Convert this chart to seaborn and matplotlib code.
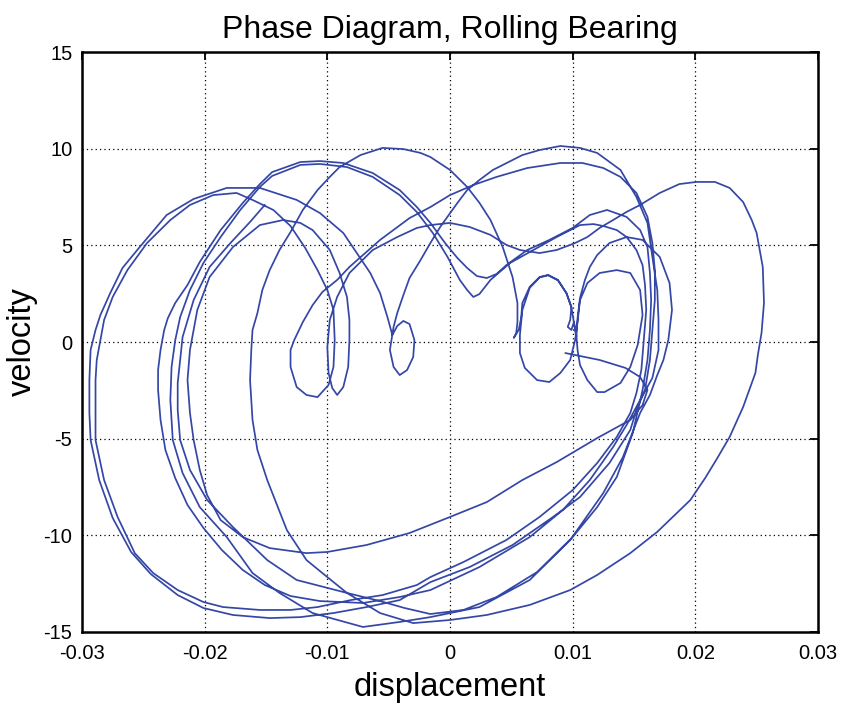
import numpy as np
import pandas as pd
import matplotlib
matplotlib.use("Agg")
import matplotlib.pyplot as plt
import seaborn as sns

# Trajectory of the bearing in phase space, split into its successive revolutions.
# Each entry is (displacement, velocity).
rev_start = [
    (0.0094, -0.57), (0.0122, -0.93), (0.0143, -1.34), (0.0155, -1.81), (0.0161, -2.48),
    (0.0157, -3.26), (0.0147, -4.03), (0.0120, -4.97), (0.0087, -6.21), (0.0059, -7.14),
    (0.0030, -8.28), (0.0000, -9.05), (-0.0033, -9.88), (-0.0068, -10.50), (-0.0100, -10.86),
    (-0.0117, -10.92), (-0.0147, -10.66), (-0.0169, -10.09), (-0.0187, -9.21), (-0.0198, -7.92),
    (-0.0204, -6.62), (-0.0209, -5.07), (-0.0212, -3.67), (-0.0214, -1.97), (-0.0212, -0.41),
    (-0.0206, 1.66), (-0.0196, 3.36), (-0.0177, 4.91), (-0.0155, 6.05), (-0.0136, 6.31),
    (-0.0122, 6.16), (-0.0112, 5.79), (-0.0098, 4.76), (-0.0090, 3.57), (-0.0084, 2.33),
    (-0.0082, 1.14), (-0.0082, 0.10), (-0.0083, -1.29), (-0.0087, -2.33), (-0.0092, -2.74),
    (-0.0096, -2.38), (-0.0099, -1.60), (-0.0100, -0.26), (-0.0098, 1.14), (-0.0092, 2.33),
    (-0.0082, 3.57), (-0.0063, 4.76), (-0.0043, 5.43), (-0.0027, 5.90), (-0.0016, 6.05),
    (0.0000, 6.16), (0.0016, 5.95), (0.0033, 5.54), (0.0046, 5.02), (0.0057, 4.76),
    (0.0073, 4.60), (0.0087, 4.76), (0.0102, 5.12), (0.0112, 5.43), (0.0122, 5.90),
    (0.0133, 6.31), (0.0144, 6.73), (0.0155, 7.09), (0.0171, 7.71), (0.0187, 8.17),
    (0.0201, 8.28), (0.0216, 8.28), (0.0228, 7.97), (0.0239, 7.24), (0.0246, 6.31),
    (0.0250, 5.64), (0.0255, 3.88), (0.0256, 2.02), (0.0254, 0.47), (0.0251, -0.67),
    (0.0249, -1.60), (0.0239, -3.36), (0.0228, -4.91), (0.0218, -6.00), (0.0208, -7.04),
    (0.0196, -8.17), (0.0169, -9.82), (0.0147, -10.92), (0.0120, -12.05), (0.0098, -12.83),
    (0.0065, -13.60), (0.0030, -14.12), (0.0000, -14.38), (-0.0030, -14.54), (-0.0057, -14.02),
    (-0.0084, -12.98), (-0.0100, -12.16), (-0.0117, -11.28), (-0.0133, -9.73), (-0.0149, -7.14),
    (-0.0157, -5.59), (-0.0161, -4.03), (-0.0163, -1.97),
]

rev_inner_loops = [
    (-0.0162, -0.41), (-0.0161, 0.62), (-0.0157, 1.50), (-0.0153, 2.69), (-0.0147, 3.72),
    (-0.0139, 4.76), (-0.0130, 5.69), (-0.0120, 6.83), (-0.0108, 7.86), (-0.0098, 8.54),
    (-0.0090, 9.05), (-0.0073, 9.67), (-0.0055, 10.04), (-0.0038, 9.98), (-0.0024, 9.78),
    (-0.0016, 9.57), (0.0000, 8.90), (0.0014, 8.02), (0.0024, 7.20), (0.0033, 6.31),
    (0.0043, 4.91), (0.0051, 3.36), (0.0055, 2.02), (0.0055, 1.03), (0.0054, 0.47),
    (0.0052, 0.21), (0.0056, 0.62), (0.0058, 1.24), (0.0059, 2.02), (0.0065, 2.85),
    (0.0073, 3.36), (0.0080, 3.47), (0.0088, 3.21), (0.0095, 2.53), (0.0099, 1.81),
    (0.0098, 1.14), (0.0096, 0.78), (0.0099, 0.62), (0.0101, 1.03), (0.0103, 0.36),
    (0.0104, -0.41), (0.0106, -1.19), (0.0112, -1.97), (0.0120, -2.59), (0.0126, -2.59),
    (0.0139, -2.12), (0.0147, -1.29), (0.0153, -0.16), (0.0157, 1.40), (0.0155, 2.69),
    (0.0147, 3.57), (0.0136, 3.72), (0.0122, 3.57), (0.0112, 3.05), (0.0106, 2.17),
    (0.0104, 1.03), (0.0102, 0.10), (0.0098, -0.93), (0.0090, -1.60), (0.0081, -2.07),
    (0.0071, -1.97), (0.0061, -1.34), (0.0057, -0.57), (0.0057, 0.36), (0.0059, 1.66),
    (0.0065, 2.80), (0.0073, 3.34), (0.0080, 3.45), (0.0088, 3.19), (0.0095, 2.51),
    (0.0099, 1.79), (0.0101, 1.03), (0.0103, 0.26), (0.0104, 1.24), (0.0106, 2.28),
    (0.0110, 3.21), (0.0114, 3.88), (0.0120, 4.50), (0.0130, 5.12), (0.0144, 5.43),
    (0.0157, 5.28), (0.0171, 4.40), (0.0179, 3.05), (0.0181, 1.66), (0.0178, 0.10),
    (0.0174, -0.93), (0.0169, -1.71), (0.0163, -2.74), (0.0155, -3.67), (0.0141, -5.95),
    (0.0125, -7.81), (0.0098, -10.24), (0.0065, -12.31), (0.0024, -13.71), (-0.0016, -14.23),
    (-0.0041, -14.48), (-0.0071, -14.74), (-0.0112, -14.02), (-0.0139, -12.98), (-0.0161, -11.95),
    (-0.0182, -10.09), (-0.0204, -8.54), (-0.0218, -6.78), (-0.0226, -5.07), (-0.0228, -3.00),
]

rev_outer_a = [
    (-0.0227, -1.29), (-0.0224, 0.10), (-0.0220, 1.29), (-0.0212, 2.69), (-0.0201, 4.09),
    (-0.0187, 5.43), (-0.0171, 6.83), (-0.0155, 8.02), (-0.0145, 8.59), (-0.0122, 9.16),
    (-0.0106, 9.21), (-0.0084, 9.05), (-0.0063, 8.54), (-0.0041, 7.60), (-0.0027, 6.72),
    (-0.0014, 5.64), (-0.0002, 4.40), (0.0008, 3.21), (0.0014, 2.69), (0.0019, 2.33),
    (0.0024, 2.48), (0.0033, 3.21), (0.0049, 4.09), (0.0068, 4.76), (0.0087, 5.43),
    (0.0106, 6.05), (0.0117, 6.10), (0.0125, 6.00), (0.0136, 5.79), (0.0144, 5.43),
    (0.0152, 4.76), (0.0157, 3.98), (0.0159, 2.95), (0.0160, 1.66), (0.0158, 0.10),
    (0.0156, -1.45), (0.0152, -2.64), (0.0147, -3.67), (0.0136, -4.91), (0.0120, -6.26),
    (0.0100, -7.66), (0.0073, -9.05), (0.0046, -10.24), (0.0011, -11.38), (-0.0016, -12.16),
    (-0.0027, -12.57), (-0.0055, -13.09), (-0.0081, -13.35), (-0.0108, -13.71), (-0.0130, -13.86),
    (-0.0155, -13.86), (-0.0185, -13.71), (-0.0201, -13.45), (-0.0222, -12.83), (-0.0242, -11.95),
    (-0.0257, -10.92), (-0.0271, -9.05), (-0.0282, -7.14), (-0.0289, -5.07), (-0.0289, -3.52),
    (-0.0289, -1.97), (-0.0288, -0.93), (-0.0285, 0.10), (-0.0282, 1.14), (-0.0275, 2.33),
    (-0.0263, 3.72), (-0.0247, 5.12), (-0.0228, 6.31), (-0.0212, 7.09), (-0.0193, 7.60),
    (-0.0174, 7.71), (-0.0161, 7.35), (-0.0144, 6.83), (-0.0130, 6.00), (-0.0118, 4.86),
    (-0.0108, 3.72), (-0.0100, 2.69), (-0.0095, 1.66), (-0.0094, 0.10), (-0.0095, -1.29),
    (-0.0099, -2.22), (-0.0108, -2.85), (-0.0117, -2.74), (-0.0125, -2.33), (-0.0130, -1.29),
    (-0.0130, -0.41), (-0.0127, 0.10), (-0.0120, 1.03), (-0.0112, 1.91), (-0.0104, 2.59),
    (-0.0092, 3.21), (-0.0082, 3.88), (-0.0057, 5.28), (-0.0033, 6.41), (-0.0016, 6.98),
    (0.0000, 7.60), (0.0019, 8.12), (0.0038, 8.54), (0.0063, 9.00), (0.0090, 9.26),
    (0.0108, 9.26), (0.0125, 9.00), (0.0139, 8.54), (0.0152, 7.71), (0.0161, 6.47),
    (0.0165, 5.12), (0.0167, 3.72), (0.0167, 2.17), (0.0165, 0.62), (0.0163, -0.93),
    (0.0159, -2.48), (0.0152, -3.52), (0.0147, -4.55), (0.0130, -6.26), (0.0106, -8.02),
    (0.0084, -9.05), (0.0051, -10.50), (0.0016, -11.64), (-0.0016, -12.42), (-0.0041, -13.35),
    (-0.0068, -13.71), (-0.0095, -14.02), (-0.0122, -14.23), (-0.0147, -14.28), (-0.0177, -14.12),
    (-0.0201, -13.76), (-0.0222, -13.09), (-0.0244, -12.00), (-0.0260, -10.86), (-0.0275, -9.10),
    (-0.0286, -7.14), (-0.0293, -5.07), (-0.0294, -3.67), (-0.0294, -1.97),
]

rev_outer_b = [
    (-0.0293, -0.41), (-0.0289, 0.62), (-0.0285, 1.40), (-0.0277, 2.53), (-0.0267, 3.83),
    (-0.0253, 4.91), (-0.0231, 6.57), (-0.0209, 7.40), (-0.0182, 7.97), (-0.0155, 7.97),
    (-0.0125, 7.35), (-0.0106, 6.67), (-0.0087, 5.64), (-0.0076, 4.60), (-0.0065, 3.57),
    (-0.0057, 2.53), (-0.0051, 1.29), (-0.0047, 0.36), (-0.0043, 0.83), (-0.0038, 1.09),
    (-0.0033, 0.93), (-0.0029, 0.10), (-0.0030, -0.78), (-0.0035, -1.45), (-0.0041, -1.71),
    (-0.0046, -1.29), (-0.0049, -0.41), (-0.0047, 0.36), (-0.0046, 0.78), (-0.0043, 1.50),
    (-0.0038, 2.43), (-0.0033, 3.31), (-0.0024, 4.24), (-0.0016, 5.12), (-0.0008, 5.95),
    (0.0006, 7.19), (0.0014, 7.86), (0.0024, 8.38), (0.0035, 8.90), (0.0059, 9.67),
    (0.0073, 9.93), (0.0090, 10.14), (0.0106, 10.04), (0.0120, 9.78), (0.0139, 8.90),
    (0.0152, 7.50), (0.0161, 6.16), (0.0165, 4.40), (0.0169, 2.69), (0.0170, 1.14),
    (0.0170, -0.41), (0.0165, -1.86), (0.0155, -3.00), (0.0144, -4.29), (0.0133, -5.43),
    (0.0114, -7.14), (0.0092, -8.69), (0.0065, -10.09), (0.0024, -11.64), (-0.0016, -12.83),
    (-0.0041, -13.19), (-0.0071, -13.50), (-0.0106, -13.40), (-0.0130, -13.14), (-0.0151, -12.57),
    (-0.0169, -11.79), (-0.0186, -10.76), (-0.0201, -9.62), (-0.0214, -8.43), (-0.0224, -7.04),
    (-0.0232, -5.59), (-0.0236, -4.03), (-0.0238, -2.48), (-0.0238, -1.45),
]

rev_final = [
    (-0.0236, -0.41), (-0.0233, 0.62), (-0.0230, 1.24), (-0.0224, 2.02), (-0.0214, 2.95),
    (-0.0204, 4.14), (-0.0187, 5.79), (-0.0169, 7.19), (-0.0155, 8.17), (-0.0145, 8.79),
    (-0.0122, 9.31), (-0.0106, 9.36), (-0.0087, 9.26), (-0.0063, 8.74), (-0.0041, 7.86),
    (-0.0027, 6.98), (-0.0016, 6.16), (-0.0004, 5.12), (0.0006, 4.35), (0.0014, 3.83),
    (0.0022, 3.41), (0.0030, 3.31), (0.0038, 3.52), (0.0046, 3.98), (0.0063, 4.76),
    (0.0081, 5.28), (0.0100, 5.90), (0.0114, 6.57), (0.0128, 6.83), (0.0144, 6.47),
    (0.0155, 5.79), (0.0161, 4.91), (0.0163, 3.57), (0.0164, 2.17), (0.0163, 0.62),
    (0.0161, -0.93), (0.0157, -2.48), (0.0149, -4.71), (0.0136, -6.98), (0.0120, -8.54),
    (0.0100, -10.09), (0.0071, -11.90), (0.0038, -13.19), (0.0011, -13.86), (-0.0016, -14.07),
    (-0.0037, -13.76), (-0.0057, -13.40), (-0.0084, -12.98), (-0.0125, -12.31), (-0.0149, -11.28),
    (-0.0177, -9.57), (-0.0198, -8.17), (-0.0212, -6.62), (-0.0220, -5.07), (-0.0222, -3.52),
    (-0.0222, -2.12), (-0.0220, -0.93), (-0.0218, 0.26), (-0.0209, 2.17), (-0.0196, 3.88),
    (-0.0179, 5.12), (-0.0163, 6.21), (-0.0151, 7.09),
]

revolutions = [rev_start, rev_inner_loops, rev_outer_a, rev_outer_b, rev_final]
points = [p for rev in revolutions for p in rev]
df = pd.DataFrame(points, columns=["displacement", "velocity"])

x_ticks = [-0.03, -0.02, -0.01, 0, 0.01, 0.02, 0.03]
x_tick_labels = ["-0.03", "-0.02", "-0.01", "0", "0.01", "0.02", "0.03"]
y_ticks = [-15, -10, -5, 0, 5, 10, 15]
y_tick_labels = ["-15", "-10", "-5", "0", "5", "10", "15"]

sns.set_style("white")
plt.rcParams["font.family"] = ["Liberation Sans", "DejaVu Sans"]
plt.rcParams["text.color"] = "black"
plt.rcParams["axes.labelcolor"] = "black"

fig = plt.figure(figsize=(8.43, 7.03), dpi=100)
ax = fig.add_axes([0.0973, 0.101, 0.873, 0.825])

sns.lineplot(data=df, x="displacement", y="velocity", sort=False, estimator=None,
             color="#3547a6", linewidth=1.25, ax=ax)

ax.set_xlim(-0.03, 0.03)
ax.set_ylim(-15, 15)
ax.set_xticks(x_ticks)
ax.set_xticklabels(x_tick_labels)
ax.set_yticks(y_ticks)
ax.set_yticklabels(y_tick_labels)
ax.grid(True, linestyle=(0, (1, 2.5)), color="black", linewidth=0.9)
ax.tick_params(direction="in", length=6, width=1.3, top=True, right=True,
               labelsize=14.5, colors="black", labelcolor="black")
ax.tick_params(axis="x", pad=9)
ax.tick_params(axis="y", pad=7)
for side in ax.spines.values():
    side.set_visible(True)
    side.set_color("black")
    side.set_linewidth(1.8)

ax.set_title("Phase Diagram, Rolling Bearing", fontsize=23, pad=10, color="black")
ax.set_xlabel("displacement", fontsize=23.5, labelpad=6, color="black")
ax.set_ylabel("velocity", fontsize=23.5, labelpad=4, color="black")

fig.savefig("out.png", dpi=100, facecolor="white")
